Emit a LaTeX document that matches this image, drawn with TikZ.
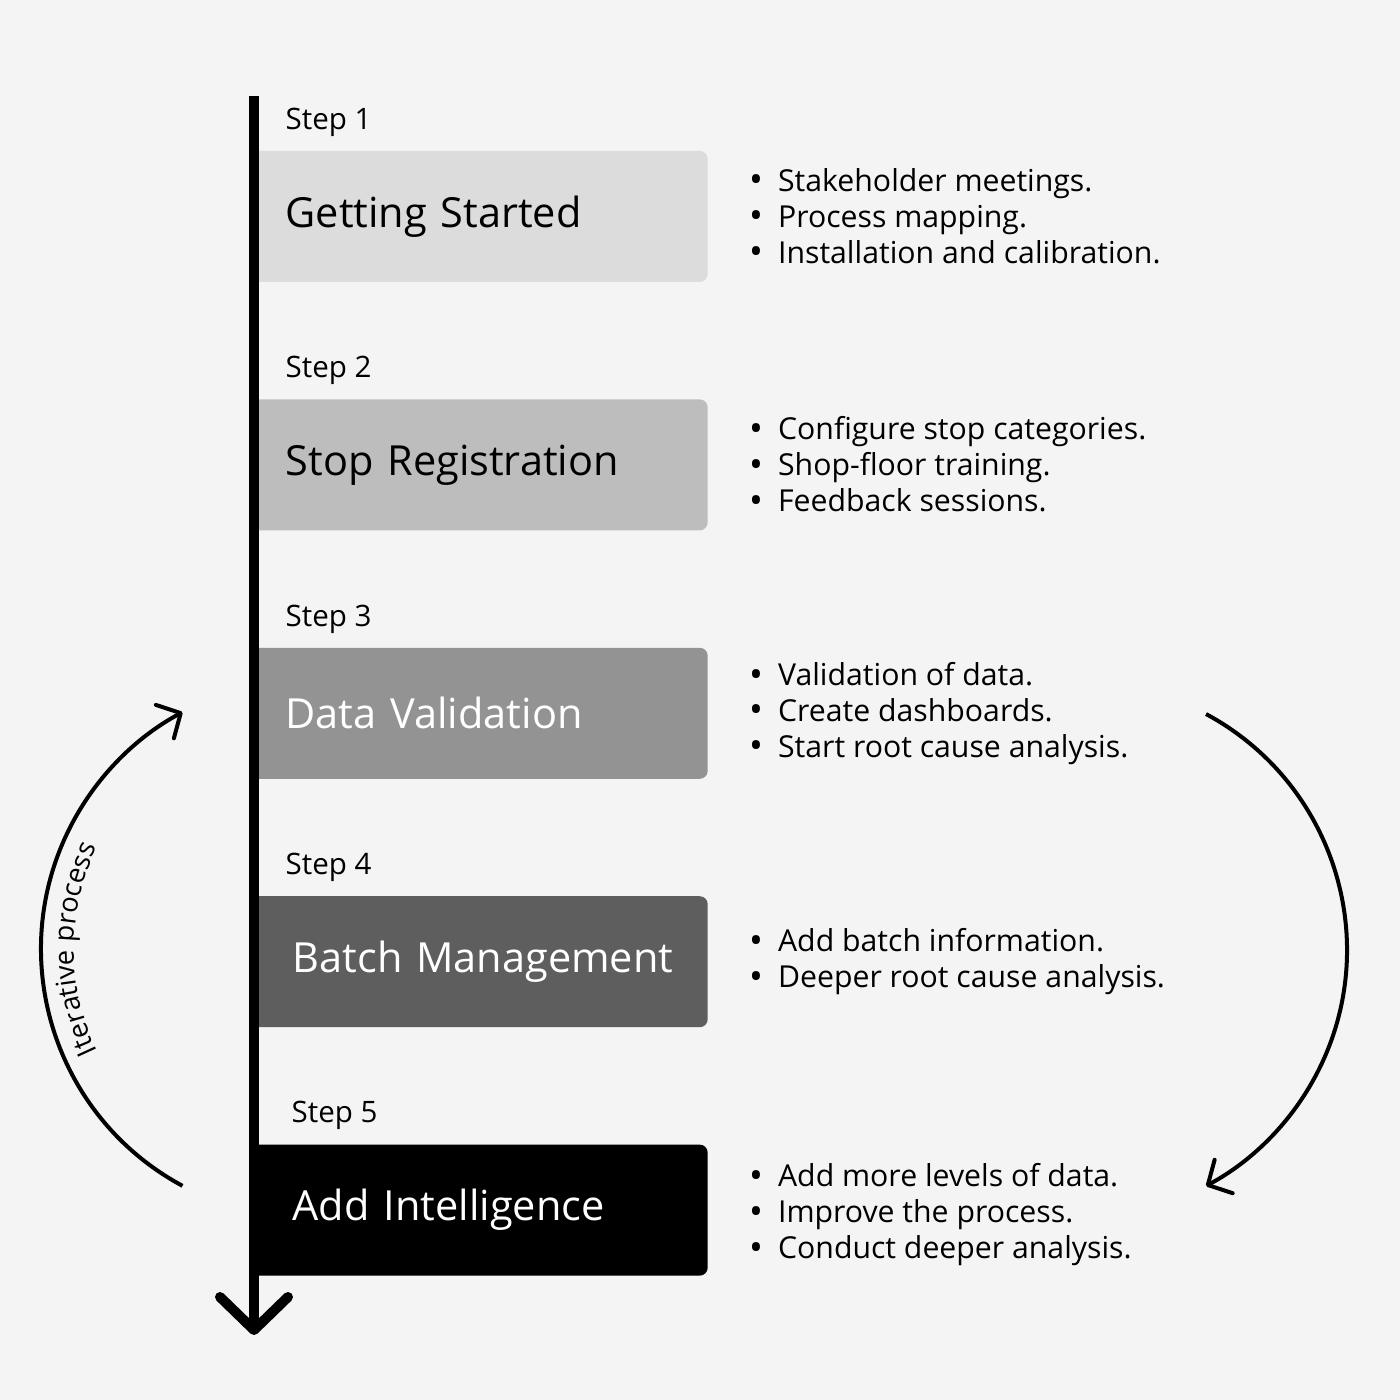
\documentclass[tikz,border=0pt]{standalone}
\usepackage{fontspec}
\setmainfont{Open Sans}
\usetikzlibrary{positioning}
\usetikzlibrary{arrows.meta}
\usetikzlibrary{decorations.text}

\definecolor{pagebg}{HTML}{F4F4F4}
\definecolor{stepone}{HTML}{DCDCDC}
\definecolor{steptwo}{HTML}{BDBDBD}
\definecolor{stepthree}{HTML}{939393}
\definecolor{stepfour}{HTML}{5E5E5E}
\definecolor{stepfive}{HTML}{000000}

\newcommand{\titlefont}{\fontsize{11.8}{14}\selectfont}
\newcommand{\labelfont}{\fontsize{8.4}{10}\selectfont}
\newcommand{\notefont}{\fontsize{8.6}{10.24}\selectfont}
\newcommand{\loopfont}{\fontsize{7.8}{9}\selectfont}
\newcommand{\bul}{\makebox[0.29cm][l]{\raisebox{-0.5pt}{\fontsize{10.5}{10.24}\selectfont\textbullet}}}

\begin{document}
\begin{tikzpicture}[%
			stepbox/.style={rectangle, rounded corners=0.08cm, text width=3.87cm, inner xsep=0.35cm, minimum height=1.31cm, align=left, font=\titlefont},
			steplabel/.style={font=\labelfont, inner sep=0pt, anchor=base west},
			notes/.style={font=\notefont, align=left, inner sep=0pt},
			flow/.style={line width=0.1cm, -{Straight Barb[length=0.33cm, width=0.68cm, round]}},
			loop/.style={line width=0.04cm, -{Straight Barb[length=0.18cm, width=0.38cm, round]}}]
			\fill[pagebg] (0,0) rectangle (14,14);
			\useasboundingbox (0,0) rectangle (14,14);
			% the five steps
			\node[stepbox, fill=stepone, anchor=west](started) at (2.50,11.835){Getting Started};
			\node[stepbox, fill=steptwo, below=1.16cm of started](stops){Stop Registration};
			\node[stepbox, fill=stepthree, text=white, below=1.16cm of stops](validation){Data Validation};
			\node[stepbox, fill=stepfour, text=white, below=1.16cm of validation](batch){\mbox{\hspace{0.07cm}Batch Management}};
			\node[stepbox, fill=stepfive, text=white, below=1.16cm of batch](intel){\mbox{\hspace{0.07cm}Add Intelligence}};
			\node[above right=0.21cm and 0.35cm of started.north west, steplabel](s1){Step 1};
			\node[above right=0.21cm and 0.35cm of stops.north west, steplabel](s2){Step 2};
			\node[above right=0.21cm and 0.35cm of validation.north west, steplabel](s3){Step 3};
			\node[above right=0.21cm and 0.35cm of batch.north west, steplabel](s4){Step 4};
			\node[above right=0.21cm and 0.41cm of intel.north west, steplabel](s5){Step 5};
			% what happens in each step
			\node[notes, right=0.40cm of started](startednotes){\bul Stakeholder meetings.\\ \bul Process mapping.\\ \bul Installation and calibration.};
			\node[notes, right=0.40cm of stops](stopsnotes){\bul Configure stop categories.\\ \bul Shop-floor training.\\ \bul Feedback sessions.};
			\node[notes, right=0.40cm of validation](validationnotes){\bul Validation of data.\\ \bul Create dashboards.\\ \bul Start root cause analysis.};
			\node[notes, right=0.40cm of batch](batchnotes){\bul Add batch information.\\ \bul Deeper root cause analysis.};
			\node[notes, right=0.40cm of intel, yshift=-0.045cm](intelnotes){\bul Add more levels of data.\\ \bul Improve the process.\\ \bul Conduct deeper analysis.};
			% time line
			\coordinate (flowtop) at (2.54,13.04);
			\coordinate (flowend) at (2.54,0.65);
			\draw[flow] (flowtop) -- (flowend);
			% loops
			\coordinate (loopcentre) at (3.10,4.51);
			\coordinate (loopfrom) at ([shift={(241.7:2.69)}]loopcentre);
			\draw[loop] (loopfrom) arc[start angle=241.7, end angle=118.3, radius=2.69cm];
			\path[decorate, decoration={text along path, text align=center, text={|\loopfont|Iterative process}}]
				([shift={(235:2.36)}]loopcentre) arc[start angle=235, end angle=125, radius=2.36cm];
			\coordinate (backcentre) at (10.79,4.50);
			\coordinate (backfrom) at ([shift={(61.7:2.68)}]backcentre);
			\draw[loop] (backfrom) arc[start angle=61.7, end angle=-61.7, radius=2.68cm];
\end{tikzpicture}
\end{document}
